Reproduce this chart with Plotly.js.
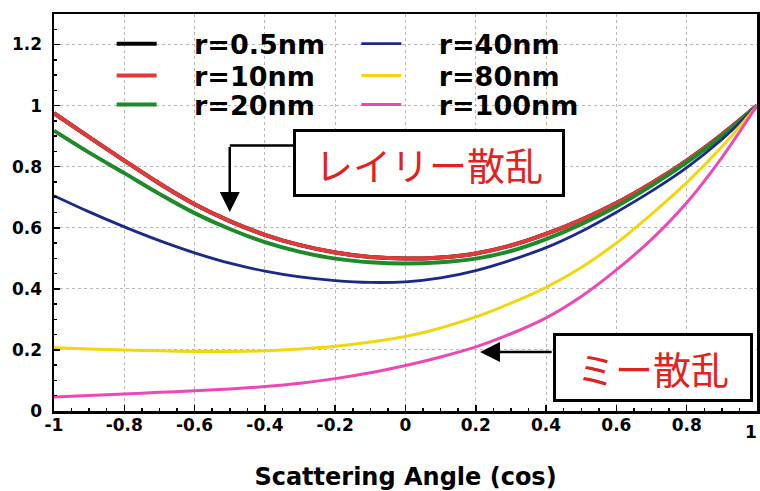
<!DOCTYPE html>
<html>
<head>
<meta charset="utf-8">
<script src="https://cdn.plot.ly/plotly-3.0.1.min.js"></script>
<style>html,body{margin:0;padding:0;background:#fff;}#chart{width:760px;height:491px;}</style>
</head>
<body>
<div id="chart"></div>
<script>
var cosAngle = [-1,-0.9,-0.8,-0.7,-0.6,-0.5,-0.4,-0.3,-0.2,-0.1,0,0.1,0.2,0.3,0.4,0.5,0.6,0.7,0.8,0.9,1];
var r05nm  = [0.975,0.897,0.820,0.745,0.677,0.622,0.577,0.543,0.519,0.504,0.499,0.503,0.516,0.542,0.580,0.626,0.681,0.746,0.820,0.905,1.0];
var r10nm  = [0.975,0.897,0.820,0.745,0.677,0.622,0.577,0.543,0.519,0.504,0.499,0.503,0.516,0.542,0.580,0.626,0.681,0.746,0.820,0.905,1.0];
var r20nm  = [0.918,0.846,0.779,0.711,0.648,0.596,0.553,0.521,0.499,0.487,0.483,0.487,0.499,0.524,0.563,0.612,0.670,0.738,0.814,0.900,1.0];
var r40nm  = [0.705,0.652,0.603,0.558,0.518,0.484,0.458,0.439,0.427,0.421,0.423,0.436,0.460,0.494,0.535,0.588,0.651,0.720,0.797,0.889,1.0];
var r80nm  = [0.207,0.203,0.200,0.197,0.195,0.195,0.197,0.203,0.212,0.226,0.244,0.272,0.308,0.353,0.405,0.470,0.550,0.645,0.748,0.865,1.0];
var r100nm = [0.046,0.051,0.056,0.061,0.066,0.072,0.080,0.091,0.106,0.125,0.149,0.177,0.210,0.253,0.305,0.375,0.462,0.562,0.682,0.830,1.0];
var seriesNames = ['r=0.5nm','r=10nm','r=20nm','r=40nm','r=80nm','r=100nm'];
var xTickVals = [-1,-0.8,-0.6,-0.4,-0.2,0,0.2,0.4,0.6,0.8,1];
var xTickText = ['-1','-0.8','-0.6','-0.4','-0.2','0','0.2','0.4','0.6','0.8','1'];
var yTickVals = [0,0.2,0.4,0.6,0.8,1,1.2];
var yTickText = ['0','0.2','0.4','0.6','0.8','1','1.2'];
var xTitle = 'Scattering Angle (cos)';
var rayleighLabel = 'レイリー散乱';
var mieLabel = 'ミー散乱';

var seriesValues = [r05nm, r10nm, r20nm, r40nm, r80nm, r100nm];
var colors = ['#000000','#e23a3a','#1f8a2a','#1b2a86','#f2d60e','#ee48b6'];
var widths = [4,4,4,2.8,3,3];
var legendIds = ['legend','legend2','legend3','legend4','legend5','legend6'];
var gap = '\u2002\u2002\u2009';

var traces = seriesValues.map(function(v,i){
  return {x: cosAngle, y: v, type:'scatter', mode:'lines', name: gap + seriesNames[i],
    line:{color:colors[i], width:widths[i], shape:'spline', smoothing:1}, legend: legendIds[i]};
});

var legFont = {family:'DejaVu Sans', size:27, color:'#000', weight:'bold'};
function leg(x,y){ return {x:x, y:y, xanchor:'left', yanchor:'middle', xref:'paper', yref:'paper',
  bgcolor:'rgba(0,0,0,0)', borderwidth:0, font:legFont, itemwidth:40}; }
var c1 = 0.082, c2 = 0.430;
var rows = [0.924, 0.844, 0.771];

var layout = {
  width:760, height:491,
  margin:{l:54, r:3, t:14, b:80},
  paper_bgcolor:'#fff', plot_bgcolor:'#fff',
  font:{family:'DejaVu Sans', color:'#000'},
  showlegend:true,
  legend: leg(c1, rows[0]), legend2: leg(c1, rows[1]), legend3: leg(c1, rows[2]),
  legend4: leg(c2, rows[0]), legend5: leg(c2, rows[1]), legend6: leg(c2, rows[2]),
  xaxis:{range:[-1,1], tickvals:xTickVals, ticktext:xTickText, ticks:'inside', ticklen:6, tickwidth:1.5, tickcolor:'#000',
    showline:true, linecolor:'#000', linewidth:2.5, mirror:true, showgrid:true, gridcolor:'#b8b8b8', griddash:'dot', gridwidth:1,
    zeroline:false, tickfont:{family:'DejaVu Sans', size:17, weight:'bold'}, ticklabelstandoff:-3,
    minor:{dtick:0.05, ticks:'inside', ticklen:3, tickcolor:'#000', showgrid:false},
    title:{text:xTitle, font:{family:'DejaVu Sans', size:24, weight:'bold'}, standoff:36}},
  yaxis:{range:[0,1.3], tickvals:yTickVals, ticktext:yTickText, ticks:'inside', ticklen:6, tickwidth:1.5, tickcolor:'#000',
    showline:true, linecolor:'#000', linewidth:2.5, mirror:true, showgrid:true, gridcolor:'#b8b8b8', griddash:'dot', gridwidth:1,
    zeroline:false, tickfont:{family:'DejaVu Sans', size:17, weight:'bold'}, ticklabelstandoff:6,
    minor:{dtick:0.05, ticks:'inside', ticklen:3, tickcolor:'#000', showgrid:false}},
  shapes:[
    {type:'line', xref:'x', yref:'y', x0:-0.32, y0:0.869, x1:-0.5, y1:0.869, line:{color:'#000', width:2.5}}
  ],
  annotations:[
    {x:-0.5, y:0.652, xref:'x', yref:'y', ax:-0.5, ay:0.869, axref:'x', ayref:'y', text:'', showarrow:true,
      arrowhead:2, arrowsize:1.6, arrowwidth:2.5, arrowcolor:'#000'},
    {x:0.212, y:0.193, xref:'x', yref:'y', ax:0.42, ay:0.193, axref:'x', ayref:'y', text:'', showarrow:true,
      arrowhead:2, arrowsize:1.6, arrowwidth:2.5, arrowcolor:'#000'},
    {x:0.067, y:0.811, xref:'x', yref:'y', text:rayleighLabel, showarrow:false, width:266, height:62,
      bgcolor:'#fff', bordercolor:'#000', borderwidth:3, borderpad:0,
      font:{family:'Noto Sans CJK JP', size:38, color:'#e2221e'}},
    {x:0.704, y:0.143, xref:'x', yref:'y', text:mieLabel, showarrow:false, width:194, height:63,
      bgcolor:'#fff', bordercolor:'#000', borderwidth:3, borderpad:0,
      font:{family:'Noto Sans CJK JP', size:38, color:'#e2221e'}},
    {x:1, y:0, xref:'x', yref:'paper', xanchor:'right', yanchor:'top', xshift:2, yshift:-9, text:xTickText[xTickText.length-1],
      showarrow:false, font:{family:'DejaVu Sans', size:17, weight:'bold', color:'#000'}}
  ]
};

Plotly.newPlot('chart', traces, layout, {displayModeBar:false, staticPlot:true});
</script>
</body>
</html>
